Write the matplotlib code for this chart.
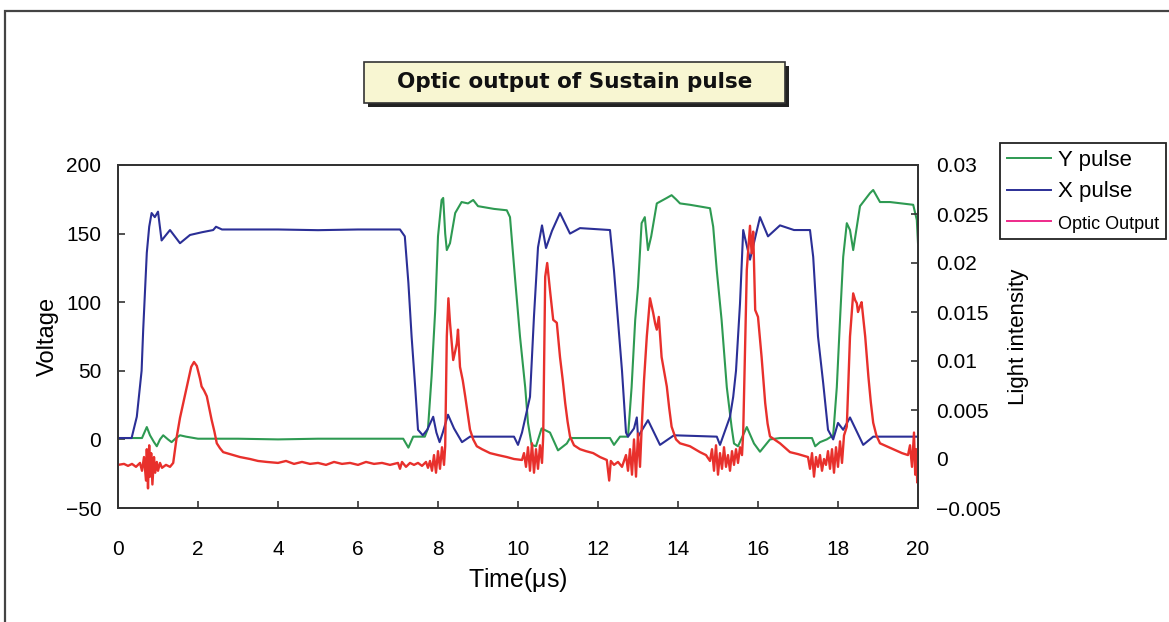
import matplotlib.pyplot as plt
from matplotlib.lines import Line2D
from matplotlib.patches import Rectangle

plt.rcParams['font.family'] = ['Liberation Sans', 'DejaVu Sans']

# X pulse (blue), voltage
x_t = [0.0, 0.34, 0.47, 0.59, 0.63, 0.72, 0.78, 0.84, 0.92, 1.0, 1.09, 1.3, 1.55, 1.8, 2.1,
       2.38, 2.45, 2.6, 4.0, 5.0, 6.0, 7.05, 7.17, 7.26, 7.34, 7.43, 7.5, 7.62, 7.73, 7.88,
       7.96, 8.04, 8.12, 8.25, 8.4, 8.6, 8.8, 9.9, 10.0, 10.1, 10.3, 10.4, 10.5, 10.6, 10.7,
       10.85, 11.05, 11.3, 11.55, 12.3, 12.4, 12.6, 12.7, 12.75, 12.9, 12.97, 13.0, 13.25,
       13.55, 13.9, 14.97, 15.05, 15.3, 15.38, 15.45, 15.55, 15.63, 15.8, 16.05, 16.25, 16.55,
       16.9, 17.3, 17.38, 17.5, 17.63, 17.75, 17.88, 18.0, 18.13, 18.3, 18.63, 18.88, 20.0]
x_v = [1, 1, 16.5, 50, 80, 136, 155, 165, 162, 166, 145, 152.6, 143, 149, 151,
       152.6, 155, 153, 153, 152.5, 153, 153, 148, 114, 75, 38, 7, 3, 7, 16.5,
       5, -2, 5, 18, 8, -2, 2, 2, -4, 5, 31, 90, 140, 156, 139.5,
       152, 165, 150, 154, 152.6, 123, 50, 5, 2, 8, 16, 2, 14,
       -4, 3, 2, -4, 16.5, 31, 50, 99, 152.6, 131, 162, 148, 156,
       152.6, 152.6, 133, 75, 41, 7, 0, 12, 7, 16, -4, 2, 2]

# Y pulse (green), voltage
y_t = [0.0, 0.6, 0.72, 0.8, 0.9, 0.97, 1.05, 1.13, 1.25, 1.34, 1.45, 1.55, 1.7, 2.0, 3.0,
       4.0, 5.0, 6.0, 7.13, 7.2, 7.26, 7.32, 7.38, 7.67, 7.75, 7.84, 7.93, 8.0, 8.09, 8.13,
       8.18, 8.22, 8.3, 8.43, 8.59, 8.75, 8.88, 9.0, 9.4, 9.72, 9.8, 9.93, 10.05, 10.18,
       10.25, 10.34, 10.45, 10.59, 10.8, 11.0, 11.22, 11.3, 12.3, 12.4, 12.55, 12.75, 12.84,
       12.93, 13.0, 13.09, 13.17, 13.25, 13.33, 13.47, 13.72, 13.84, 13.95, 14.05, 14.3,
       14.8, 14.88, 14.97, 15.09, 15.22, 15.34, 15.4, 15.5, 15.72, 15.9, 16.05, 16.3, 16.55,
       17.35, 17.43, 17.55, 17.72, 17.88, 17.97, 18.05, 18.13, 18.22, 18.3, 18.38, 18.55,
       18.8, 18.88, 19.05, 19.3, 19.88, 19.97, 20.0]
y_v = [1, 1, 9, 3, -2, -5, 0, 3, 0, -2, 1, 3, 2, 0.5, 0.5,
       0, 0.5, 0.5, 0.5, -3, -6, -2, 2, 2, 8, 46, 94, 148, 174.5, 176,
       150, 138, 143, 165, 173, 172, 174.5, 170, 168, 167, 162, 116, 75, 38,
       12, -4, -5, 8, 5, -8, -3, 1, 1, -4, 2, 2, 38,
       87, 111, 157.6, 162, 138, 148, 172, 176, 178, 175, 172, 171,
       168.5, 155, 123, 87, 38, 9, -3, -5, 9, -3, -9, 0, 1,
       1, -5, -2, 0, 3, 38, 87, 133, 157.6, 152.6, 138, 170,
       179.5, 181.8, 173, 173, 171, 160, 143]

# Optic output (red), light intensity
o_t = [0.0, 0.15, 0.25, 0.35, 0.45, 0.55, 0.6, 0.65, 0.7, 0.72, 0.75, 0.78, 0.8, 0.83, 0.86,
       0.9, 0.93, 0.97, 1.0, 1.05, 1.1, 1.2, 1.3, 1.38, 1.47, 1.55, 1.63, 1.7, 1.76, 1.83,
       1.9, 1.97, 2.05, 2.09, 2.15, 2.22, 2.28, 2.34, 2.41, 2.47, 2.55, 2.63, 2.8, 3.05, 3.3,
       3.5, 3.72, 4.0, 4.2, 4.4, 4.6, 4.8, 5.0, 5.2, 5.4, 5.6, 5.8, 6.0, 6.2, 6.4, 6.6, 6.8,
       7.0, 7.05, 7.1, 7.2, 7.3, 7.4, 7.5, 7.6, 7.7, 7.75, 7.8, 7.85, 7.9, 7.95, 8.0, 8.05,
       8.1, 8.15, 8.18, 8.22, 8.26, 8.3, 8.34, 8.38, 8.43, 8.47, 8.5, 8.55, 8.62, 8.68, 8.74,
       8.8, 8.88, 8.97, 9.1, 9.3, 9.5, 9.72, 9.9, 10.1, 10.15, 10.2, 10.25, 10.3, 10.35, 10.4,
       10.45, 10.5, 10.55, 10.6, 10.63, 10.68, 10.73, 10.8, 10.88, 10.97, 11.05, 11.12, 11.18,
       11.24, 11.3, 11.4, 11.55, 11.7, 11.88, 12.05, 12.22, 12.28, 12.32, 12.4, 12.5, 12.6,
       12.7, 12.75, 12.8, 12.85, 12.9, 12.95, 13.0, 13.05, 13.09, 13.15, 13.22, 13.3, 13.38,
       13.43, 13.47, 13.52, 13.59, 13.66, 13.72, 13.78, 13.84, 13.95, 14.05, 14.3, 14.55,
       14.7, 14.8, 14.85, 14.9, 14.95, 15.0, 15.05, 15.1, 15.15, 15.2, 15.25, 15.3, 15.35,
       15.4, 15.45, 15.5, 15.55, 15.6, 15.63, 15.72, 15.8, 15.84, 15.88, 15.93, 16.0, 16.09,
       16.18, 16.24, 16.3, 16.55, 16.8, 17.0, 17.25, 17.3, 17.35, 17.4, 17.45, 17.5, 17.55,
       17.6, 17.65, 17.7, 17.75, 17.8, 17.85, 17.9, 17.95, 18.0, 18.05, 18.1, 18.15, 18.22,
       18.3, 18.38, 18.43, 18.47, 18.5, 18.55, 18.59, 18.68, 18.76, 18.82, 18.88, 18.96,
       19.05, 19.38, 19.6, 19.75, 19.8, 19.85, 19.9, 19.93, 19.96, 19.98, 20.0]
o_v = [-0.0006, -0.0005, -0.0007, -0.0005, -0.0008, -0.0004, -0.0012, 0.0002, -0.0022, 0.0010,
       -0.0030, 0.0014, -0.0018, 0.0006, -0.0026, 0.0002, -0.0014, -0.0003, -0.0012, -0.0004,
       -0.0009, -0.0006, -0.0008, -0.0004, 0.0023, 0.0042, 0.0057, 0.0070, 0.0081, 0.0094,
       0.0099, 0.0095, 0.0082, 0.0074, 0.0070, 0.0064, 0.0052, 0.0040, 0.0028, 0.0016,
       0.0011, 0.0007, 0.0005, 0.0002, 0.0000, -0.0002, -0.0003, -0.0004, -0.0002, -0.0005,
       -0.0003, -0.0005, -0.0004, -0.0006, -0.0003, -0.0005, -0.0004, -0.0006, -0.0003,
       -0.0005, -0.0004, -0.0006, -0.0004, -0.0010, -0.0003, -0.0008, -0.0004, -0.0006,
       -0.0004, -0.0007, -0.0003, -0.0009, -0.0002, -0.0012, 0.0004, -0.0014, 0.0008, -0.0010,
       0.0012, -0.0006, 0.0013, 0.0125, 0.0164, 0.0139, 0.0120, 0.0101, 0.0110, 0.0118,
       0.0132, 0.0094, 0.0080, 0.0064, 0.0047, 0.0030, 0.0020, 0.0013, 0.0010, 0.0006,
       0.0004, 0.0002, 0.0000, -0.0001, 0.0006, -0.0008, 0.0012, -0.0012, 0.0016, -0.0014,
       0.0010, -0.0010, 0.0014, -0.0004, 0.0023, 0.0186, 0.0200, 0.0172, 0.0142, 0.0139,
       0.0104, 0.0080, 0.0057, 0.0038, 0.0023, 0.0014, 0.0010, 0.0008, 0.0006, 0.0002,
       -0.0001, -0.0022, -0.0002, -0.0006, -0.0003, -0.0008, 0.0004, -0.0012, 0.0010,
       -0.0016, 0.0020, -0.0018, 0.0026, -0.0008, 0.0030, 0.0080, 0.0125, 0.0164, 0.0149,
       0.0138, 0.0132, 0.0145, 0.0104, 0.0088, 0.0074, 0.0052, 0.0033, 0.0020, 0.0016,
       0.0013, 0.0007, 0.0004, -0.0002, 0.0010, -0.0012, 0.0014, -0.0016, 0.0006, -0.0010,
       0.0012, -0.0008, 0.0004, -0.0012, 0.0008, -0.0006, 0.0010, -0.0004, 0.0012, 0.0004,
       0.0027, 0.0193, 0.0238, 0.0210, 0.0232, 0.0152, 0.0145, 0.0104, 0.0057, 0.0036,
       0.0023, 0.0016, 0.0007, 0.0005, 0.0002, -0.0010, 0.0006, -0.0018, 0.0002, -0.0008,
       0.0004, -0.0012, 0.0000, -0.0006, 0.0008, -0.0010, 0.0010, -0.0014, 0.0012, -0.0008,
       0.0018, -0.0004, 0.0024, 0.0033, 0.0125, 0.0169, 0.0162, 0.0159, 0.0150, 0.0156,
       0.0160, 0.0125, 0.0084, 0.0058, 0.0037, 0.0024, 0.0016, 0.0010, 0.0006, 0.0004,
       0.0014, -0.0008, 0.0027, -0.0016, 0.0010, -0.0024, -0.0014]

x_ticks = [0, 2, 4, 6, 8, 10, 12, 14, 16, 18, 20]
v_ticks = [-50, 0, 50, 100, 150, 200]
v_labels = ['\u221250', '0', '50', '100', '150', '200']
l_ticks = [-0.005, 0, 0.005, 0.01, 0.015, 0.02, 0.025, 0.03]
l_labels = ['\u22120.005', '0', '0.005', '0.01', '0.015', '0.02', '0.025', '0.03']

green = '#2e9a52'
blue = '#2b2f96'
red = '#e8302c'
spine_c = '#333333'

fig = plt.figure(figsize=(11.69, 6.22), dpi=100)
ax = fig.add_axes([118 / 1169, 1 - 508 / 622, 800 / 1169, 343 / 622])
ax2 = ax.twinx()

ax.plot(y_t, y_v, color=green, lw=1.5)
ax.plot(x_t, x_v, color=blue, lw=1.5)
ax2.plot(o_t, o_v, color=red, lw=1.7)

ax.set_xlim(0, 20)
ax.set_ylim(-50, 200)
ax2.set_ylim(-0.005, 0.03)
ax.set_xticks(x_ticks)
ax.set_xticklabels([str(t) for t in x_ticks])
ax.set_yticks(v_ticks)
ax.set_yticklabels(v_labels)
ax2.set_yticks(l_ticks)
ax2.set_yticklabels(l_labels)

for a in (ax, ax2):
    for s in a.spines.values():
        s.set_color(spine_c)
        s.set_linewidth(1.3)
ax.tick_params(axis='x', direction='in', length=5, width=1.2, color=spine_c, labelsize=15, pad=23)
ax.tick_params(axis='y', direction='in', length=5, width=1.2, color=spine_c, labelsize=15, pad=12)
ax2.tick_params(axis='y', direction='in', length=5, width=1.2, color=spine_c, labelsize=15, pad=13)

ax.set_xlabel(r'Time($\mathregular{\mu}$s)', fontsize=18, labelpad=5)
ax.set_ylabel('Voltage', fontsize=17, labelpad=5)
ax2.set_ylabel('Light intensity', fontsize=16, labelpad=5)

# title box with shadow
fig.add_artist(Rectangle((368 / 1169, 1 - 107 / 622), 421 / 1169, 41 / 622,
                         transform=fig.transFigure, facecolor='#222222', edgecolor='none'))
fig.add_artist(Rectangle((364 / 1169, 1 - 103 / 622), 421 / 1169, 41 / 622,
                         transform=fig.transFigure, facecolor='#f8f6d2', edgecolor='#333333', lw=1.2))
fig.text(575 / 1169, 1 - 82 / 622, 'Optic output of Sustain pulse', ha='center', va='center',
         fontsize=15.5, fontweight='bold', family=['DejaVu Sans'], color='#111111')

# outer frame
fig.add_artist(Rectangle((5 / 1169, -0.1), 1.2, 1.1 - 11 / 622, transform=fig.transFigure,
                         facecolor='none', edgecolor='#444444', lw=1.6))

handles = [Line2D([], [], color=green, lw=1.4),
           Line2D([], [], color=blue, lw=1.4),
           Line2D([], [], color='#ee2a8a', lw=1.4)]
leg = fig.legend(handles, ['Y pulse', 'X pulse', 'Optic Output'], loc='upper left',
                 bbox_to_anchor=(1000 / 1169, 1 - 143 / 622), fancybox=False, framealpha=1,
                 edgecolor='#222222', fontsize=16, handlelength=2.0, handletextpad=0.3,
                 borderpad=0.3, labelspacing=0.48, borderaxespad=0)
leg.get_frame().set_linewidth(1.3)
leg.get_texts()[2].set_fontsize(13)

fig.savefig('out.png', dpi=100)
